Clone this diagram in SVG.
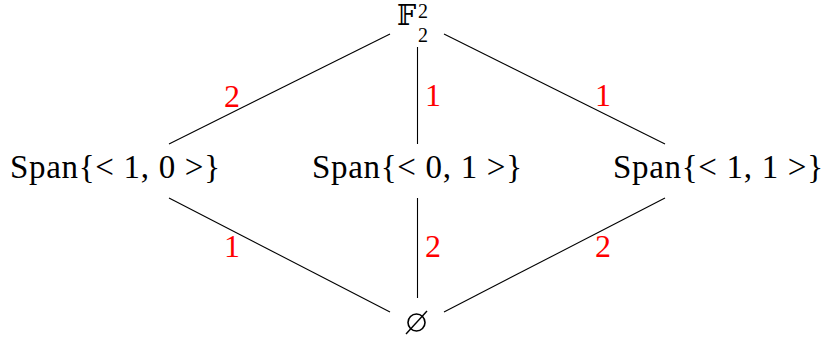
<svg xmlns="http://www.w3.org/2000/svg" width="827" height="338" viewBox="0 0 827 338">
<style>
text{font-family:'Liberation Serif','Times New Roman',serif}
.lbl{font-size:33px;fill:#000}
.w{font-size:32px;fill:#ff0000;text-anchor:middle}
.e{stroke:#000;stroke-width:1.1;fill:none}
</style>
<rect width="827" height="338" fill="#fff"/>
<g id="connectors">
<line class="e" x1="390" y1="34" x2="169" y2="144"/>
<line class="e" x1="417.5" y1="47" x2="417.5" y2="144"/>
<line class="e" x1="444" y1="34" x2="665" y2="144"/>
<line class="e" x1="169" y1="198" x2="390" y2="312"/>
<line class="e" x1="417.5" y1="198" x2="417.5" y2="298"/>
<line class="e" x1="665" y1="198" x2="444" y2="312"/>
<text class="w" x="232" y="107">2</text>
<text class="w" x="433" y="106">1</text>
<text class="w" x="603" y="106">1</text>
<text class="w" x="232" y="257">1</text>
<text class="w" x="433" y="257">2</text>
<text class="w" x="603" y="257">2</text>
</g>
<g id="top">
<text x="397" y="25" style="font-family:'DejaVu Serif','DejaVu Sans',serif" font-size="27" fill="#000">𝔽</text>
<text x="418" y="18" font-size="20" fill="#000">2</text>
<text x="418" y="42" font-size="20" fill="#000">2</text>
</g>
<g id="span10">
<text class="lbl" x="10" y="178" textLength="210" lengthAdjust="spacing">Span{&lt; 1, 0 &gt;}</text>
</g>
<g id="span01">
<text class="lbl" x="312" y="178" textLength="210" lengthAdjust="spacing">Span{&lt; 0, 1 &gt;}</text>
</g>
<g id="span11">
<text class="lbl" x="613" y="178" textLength="210" lengthAdjust="spacing">Span{&lt; 1, 1 &gt;}</text>
</g>
<g id="empty">
<circle cx="416.5" cy="322.5" r="8.5" fill="none" stroke="#000" stroke-width="1.6"/>
<line x1="406" y1="334" x2="427" y2="311" stroke="#000" stroke-width="1.4"/>
</g>
</svg>
